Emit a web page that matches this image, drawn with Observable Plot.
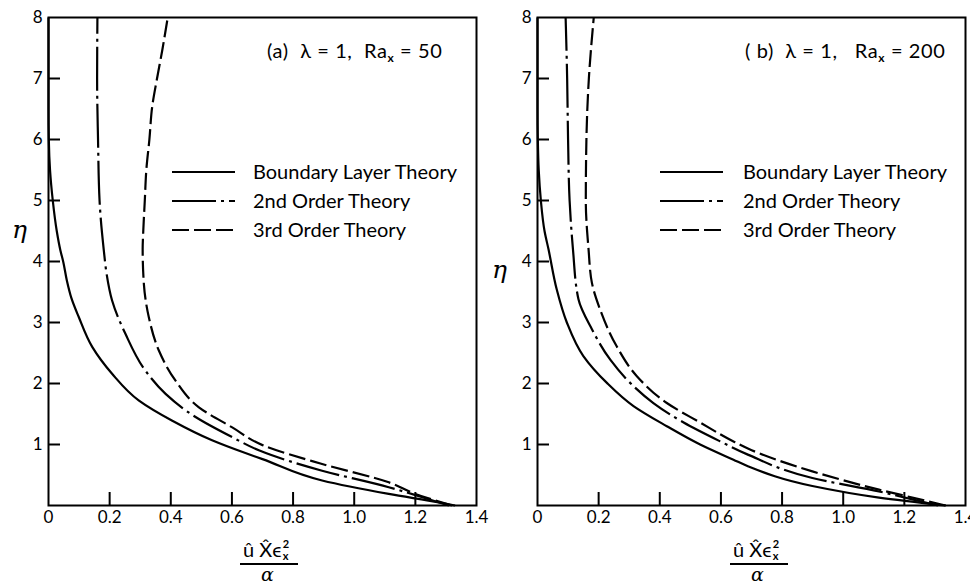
<!DOCTYPE html>
<html>
<head>
<meta charset="utf-8">
<script src="https://cdn.jsdelivr.net/npm/d3@7"></script>
<script src="https://cdn.jsdelivr.net/npm/@observablehq/plot@0.6"></script>
<style>
  body { margin: 0; background: #fff; }
  #chart { position: relative; width: 970px; height: 586px; overflow: hidden; font-family: Lato, "Open Sans", sans-serif; color: #000; }
  #chart svg.plot { position: absolute; top: 0; }
  .ann { position: absolute; white-space: nowrap; font-size: 20px; line-height: 22px; letter-spacing: 0.6px; }
  .ann sub { font-size: 12px; vertical-align: -4px; line-height: 0; font-weight: 700; }
  .leg { position: absolute; white-space: nowrap; font-size: 20px; line-height: 22px; }
  .leg svg { position: absolute; top: 10px; }
  .eta { position: absolute; font-family: "DejaVu Serif", serif; font-style: italic; font-size: 25px; line-height: 26px; }
  .num { position: absolute; font-size: 20px; line-height: 22px; white-space: nowrap; }
  .sx { position: absolute; font-size: 11px; line-height: 10px; font-weight: 700; }
  .bar { position: absolute; height: 2px; background: #000; }
  .den { position: absolute; font-family: "DejaVu Serif", serif; font-style: italic; font-size: 19px; line-height: 19px; }
</style>
</head>
<body>
<div id="chart"></div>
<script>
// ---------- data ----------
const xTicks = [0, 0.2, 0.4, 0.6, 0.8, 1.0, 1.2, 1.4];
const xTickLabels = ["0", "0.2", "0.4", "0.6", "0.8", "1.0", "1.2", "1.4"];
const yTicks = [1, 2, 3, 4, 5, 6, 7, 8];
const yTickLabels = ["1", "2", "3", "4", "5", "6", "7", "8"];
const xInnerTicks = [0.2, 0.4, 0.6, 0.8, 1.0, 1.2];
const yInnerTicks = [1, 2, 3, 4, 5, 6, 7];

const seriesNames = ["Boundary Layer Theory", "2nd Order Theory", "3rd Order Theory"];
const panelTitles = ["(a)", "( b)"];
const lambdaValues = [1, 1];
const raValues = [50, 200];

// Panel (a), Ra_x = 50
const etaA_BL = [8, 6.5, 6, 5.5, 5, 4.5, 4.18, 4.0, 3.69, 3.4, 3.09, 2.6, 2.16, 1.72, 1.39, 1.07, 0.86, 0.76, 0.41, 0.19, 0.05, 0];
const uA_BL   = [0, 0, 0.001, 0.005, 0.014, 0.027, 0.039, 0.048, 0.06, 0.075, 0.099, 0.143, 0.208, 0.296, 0.405, 0.535, 0.644, 0.70, 0.895, 1.113, 1.277, 1.33];
const etaA_2  = [8, 7, 6, 5, 4.18, 3.8, 3.36, 2.81, 2.21, 1.83, 1.45, 1.12, 0.90, 0.57, 0.30, 0.14, 0];
const uA_2    = [0.16, 0.159, 0.162, 0.167, 0.181, 0.19, 0.208, 0.252, 0.317, 0.383, 0.481, 0.601, 0.69, 0.895, 1.113, 1.22, 1.31];
const etaA_3  = [8, 7.46, 7, 6.53, 6, 5.5, 5, 4.5, 4.2, 3.63, 3.09, 2.54, 2.05, 1.61, 1.28, 0.99, 0.68, 0.38, 0.19, 0];
const uA_3    = [0.39, 0.372, 0.355, 0.339, 0.33, 0.32, 0.315, 0.31, 0.308, 0.312, 0.328, 0.361, 0.415, 0.492, 0.601, 0.70, 0.895, 1.113, 1.20, 1.32];

// Panel (b), Ra_x = 200
const etaB_BL = [8, 6.5, 6, 5.5, 5, 4.5, 4.2, 3.54, 3.0, 2.45, 2.01, 1.63, 1.30, 1.0, 0.75, 0.64, 0.32, 0.13, 0];
const uB_BL   = [0, 0, 0.001, 0.004, 0.011, 0.023, 0.036, 0.063, 0.096, 0.150, 0.227, 0.314, 0.423, 0.532, 0.641, 0.69, 0.899, 1.117, 1.335];
const etaB_2  = [8, 7, 6, 5, 4.2, 3.38, 2.89, 2.39, 2.01, 1.68, 1.36, 1.05, 0.83, 0.45, 0.23, 0.10, 0];
const uB_2    = [0.092, 0.097, 0.10, 0.105, 0.116, 0.134, 0.178, 0.238, 0.303, 0.379, 0.478, 0.598, 0.69, 0.899, 1.117, 1.226, 1.31];
const etaB_3  = [8, 7, 6, 5, 4.2, 3.65, 3.21, 2.61, 2.12, 1.68, 1.36, 1.05, 0.93, 0.56, 0.26, 0.13, 0];
const uB_3    = [0.184, 0.168, 0.16, 0.158, 0.167, 0.178, 0.205, 0.259, 0.325, 0.423, 0.532, 0.641, 0.69, 0.899, 1.117, 1.226, 1.335];

const dashes = [null, "44,5,3,5", "17,5"];

// ---------- build ----------
function table(us, etas) {
  return us.map((u, i) => ({u, eta: etas[i]})).sort((a, b) => a.eta - b.eta);
}

const panels = [
  {left: 0, marginLeft: 48, marginRight: 9, series: [table(uA_BL, etaA_BL), table(uA_2, etaA_2), table(uA_3, etaA_3)]},
  {left: 485, marginLeft: 52, marginRight: 5, series: [table(uB_BL, etaB_BL), table(uB_2, etaB_2), table(uB_3, etaB_3)]}
];

const chart = document.getElementById("chart");

panels.forEach((p, pi) => {
  const plot = Plot.plot({
    width: 485,
    height: 586,
    marginLeft: p.marginLeft,
    marginRight: p.marginRight,
    marginTop: 17,
    marginBottom: 81,
    x: {domain: [0, 1.4]},
    y: {domain: [0, 8]},
    style: {fontSize: "17px", fontFamily: "Lato, sans-serif", color: "#000", background: "none", overflow: "visible"},
    marks: [
      Plot.axisX({ticks: xTicks, tickSize: 0, tickPadding: 5, tickFormat: d => xTickLabels[xTicks.indexOf(d)], label: null}),
      Plot.axisY({ticks: yTicks, tickSize: 0, tickPadding: 6, tickFormat: d => yTickLabels[yTicks.indexOf(d)], label: null}),
      Plot.tickX(xInnerTicks, {x: d => d, insetTop: 488 - 13, strokeWidth: 2, stroke: "#000"}),
      Plot.tickY(yInnerTicks, {y: d => d, insetRight: 428 - 12, strokeWidth: 2, stroke: "#000"}),
      ...p.series.map((s, si) => Plot.line(s, {
        x: "u", y: "eta", curve: "monotone-y", stroke: "#000", strokeWidth: 2.2,
        strokeDasharray: dashes[si], strokeLinecap: "butt"
      })),
      Plot.frame({stroke: "#000", strokeWidth: 2})
    ]
  });
  plot.classList.add("plot");
  plot.style.left = p.left + "px";
  chart.appendChild(plot);
});

// ---------- annotations ----------
function add(html, cls, styles) {
  const d = document.createElement("div");
  d.className = cls;
  d.innerHTML = html;
  Object.assign(d.style, styles);
  chart.appendChild(d);
  return d;
}

const titleLeft = [267, 745];
const legLineLeft = [172, 660];
const legTextLeft = [253, 743];
const legRowsY = [171, 200, 229];
const etaPos = [[12, 217], [492, 257]];
const fracPos = [240, 730];

panels.forEach((p, pi) => {
  add(`${panelTitles[pi]}&nbsp;&nbsp;λ = ${lambdaValues[pi]},&nbsp;&nbsp;${pi ? "&nbsp;" : ""}Ra<sub>x</sub> = ${raValues[pi]}`, "ann",
      {left: titleLeft[pi] + "px", top: (50 - 11) + "px"});
  seriesNames.forEach((name, si) => {
    const w = 63;
    const line = `<svg width="${w}" height="4" style="left:${legLineLeft[pi] - legTextLeft[pi]}px"><line x1="0" y1="2" x2="${w}" y2="2" stroke="#000" stroke-width="2.2" ${dashes[si] ? `stroke-dasharray="${dashes[si]}"` : ""}/></svg>`;
    add(line + name, "leg", {left: legTextLeft[pi] + "px", top: (legRowsY[si] - 11) + "px"});
  });
  add("η", "eta", {left: etaPos[pi][0] + "px", top: etaPos[pi][1] + "px"});
  const fx = fracPos[pi];
  const numDiv = add(`û X\u0302ϵ`, "num", {left: (fx + 3) + "px", top: "538px"});
  const nw = numDiv.getBoundingClientRect().width;
  add("2", "sx", {left: (fx + 3 + nw + 1) + "px", top: "539px"});
  add("x", "sx", {left: (fx + 3 + nw + 1) + "px", top: "551px"});
  add("", "bar", {left: fx + "px", top: "563px", width: "58px"});
  add("α", "den", {left: (fx + 21) + "px", top: "565px"});
});
</script>
</body>
</html>
